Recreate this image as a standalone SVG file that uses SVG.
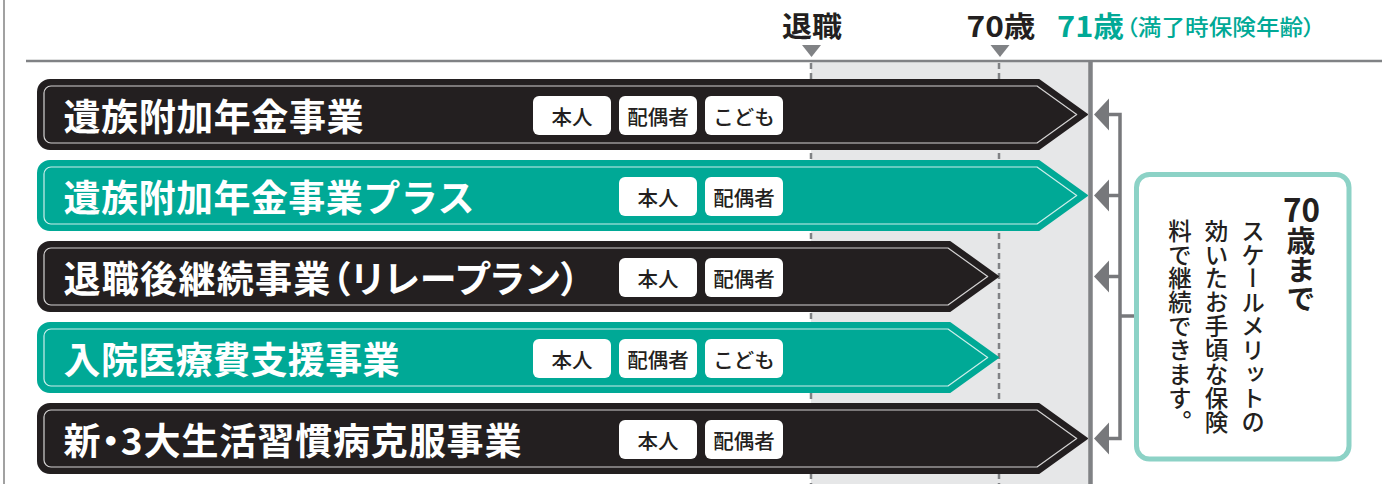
<svg xmlns="http://www.w3.org/2000/svg" width="1382" height="484" viewBox="0 0 1382 484">
  <style>
    .jp { font-family: "Noto Sans CJK JP", "Noto Sans", sans-serif; }
    .title { font-size: 37px; font-weight: 700; fill: #ffffff; dominant-baseline: central; }
    .palt { font-feature-settings: "palt"; }
    .tag { fill: #ffffff; }
    .tagtxt { font-size: 20.5px; font-weight: 500; fill: #231f20; text-anchor: middle; dominant-baseline: central; }
    .dark { fill: #231f20; stroke: #231f20; stroke-width: 2; stroke-linejoin: round; }
    .teal { fill: #00a996; stroke: #00a996; stroke-width: 2; stroke-linejoin: round; }
    .inner { fill: none; stroke: #ffffff; stroke-opacity: 0.8; stroke-width: 1.2; stroke-linejoin: round; }
    .head { font-size: 28px; font-weight: 700; dominant-baseline: central; }
    .conn { stroke: #77787b; stroke-width: 3.5; fill: none; }
    .arrow { fill: #77787b; }
    .vt { writing-mode: vertical-rl; font-size: 23.5px; font-weight: 500; fill: #231f20; letter-spacing: 0.4px; }
  </style>

  <!-- frame lines -->
  <g id="frame">
    <line x1="4" y1="0" x2="4" y2="484" stroke="#8a8a8a" stroke-width="1.6"/>
    <rect x="811" y="62" width="278" height="422" fill="#e6e7e8"/>
    <line x1="26" y1="61" x2="1382" y2="61" stroke="#808285" stroke-width="2.6"/>
    <line x1="811" y1="63" x2="811" y2="484" stroke="#808285" stroke-width="2.5" stroke-dasharray="6 4"/>
    <line x1="999" y1="63" x2="999" y2="484" stroke="#808285" stroke-width="2.5" stroke-dasharray="6 4"/>
    <line x1="1090.5" y1="61" x2="1090.5" y2="484" stroke="#808285" stroke-width="4.5"/>
  </g>

  <!-- top labels -->
  <g id="label-retire">
    <text class="jp head" x="812" y="25" text-anchor="middle" fill="#231f20" textLength="60" lengthAdjust="spacingAndGlyphs">退職</text>
    <polygon points="802,45 821,45 811.5,57" fill="#808285"/>
  </g>
  <g id="label-70">
    <text class="jp head" x="1001" y="25" text-anchor="middle" fill="#231f20" textLength="69" lengthAdjust="spacingAndGlyphs">70歳</text>
    <polygon points="990.5,45 1009.5,45 1000,57" fill="#808285"/>
  </g>
  <g id="label-71">
    <text class="jp head" x="1057" y="25" fill="#00a996" textLength="67" lengthAdjust="spacingAndGlyphs">71歳</text>
    <text class="jp palt" x="1126" y="25" font-size="21.5" font-weight="500" fill="#00a996" dominant-baseline="central" textLength="189" lengthAdjust="spacingAndGlyphs">（満了時保険年齢）</text>
  </g>

  <!-- bar 1 -->
  <g id="bar1">
    <path class="dark" d="M50,80 H1039 L1087,114.5 L1039,149 H50 A12,12 0 0 1 38,137 V92 A12,12 0 0 1 50,80 Z"/>
    <path class="inner" d="M51,86 H1037 L1076.7,114.5 L1037,143 H51 A7,7 0 0 1 44,136 V93 A7,7 0 0 1 51,86 Z"/>
    <text class="jp title" x="63.5" y="114.5" textLength="300" lengthAdjust="spacing">遺族附加年金事業</text>
    <rect class="tag" x="533" y="96" width="78" height="39" rx="6"/>
    <text class="jp tagtxt" x="572" y="115.5">本人</text>
    <rect class="tag" x="619" y="96" width="78" height="39" rx="6"/>
    <text class="jp tagtxt" x="658" y="115.5">配偶者</text>
    <rect class="tag" x="705" y="96" width="78" height="39" rx="6"/>
    <text class="jp tagtxt" x="744" y="115.5">こども</text>
  </g>

  <!-- bar 2 -->
  <g id="bar2">
    <path class="teal" d="M50,161 H1039 L1087,195.5 L1039,230 H50 A12,12 0 0 1 38,218 V173 A12,12 0 0 1 50,161 Z"/>
    <path class="inner" d="M51,167 H1037 L1076.7,195.5 L1037,224 H51 A7,7 0 0 1 44,217 V174 A7,7 0 0 1 51,167 Z"/>
    <text class="jp title" x="63.5" y="195.5" textLength="411" lengthAdjust="spacing">遺族附加年金事業プラス</text>
    <rect class="tag" x="619" y="177" width="78" height="39" rx="6"/>
    <text class="jp tagtxt" x="658" y="196.5">本人</text>
    <rect class="tag" x="705" y="177" width="78" height="39" rx="6"/>
    <text class="jp tagtxt" x="744" y="196.5">配偶者</text>
  </g>

  <!-- bar 3 -->
  <g id="bar3">
    <path class="dark" d="M50,242 H950 L998,276.5 L950,311 H50 A12,12 0 0 1 38,299 V254 A12,12 0 0 1 50,242 Z"/>
    <path class="inner" d="M51,248 H948 L987.7,276.5 L948,305 H51 A7,7 0 0 1 44,298 V255 A7,7 0 0 1 51,248 Z"/>
    <text class="jp title palt" x="63.5" y="276.5" textLength="516" lengthAdjust="spacing">退職後継続事業（リレープラン）</text>
    <rect class="tag" x="619" y="258" width="78" height="39" rx="6"/>
    <text class="jp tagtxt" x="658" y="277.5">本人</text>
    <rect class="tag" x="705" y="258" width="78" height="39" rx="6"/>
    <text class="jp tagtxt" x="744" y="277.5">配偶者</text>
  </g>

  <!-- bar 4 -->
  <g id="bar4">
    <path class="teal" d="M50,323 H950 L998,357.5 L950,392 H50 A12,12 0 0 1 38,380 V335 A12,12 0 0 1 50,323 Z"/>
    <path class="inner" d="M51,329 H948 L987.7,357.5 L948,386 H51 A7,7 0 0 1 44,379 V336 A7,7 0 0 1 51,329 Z"/>
    <text class="jp title" x="63.5" y="357.5" textLength="336" lengthAdjust="spacing">入院医療費支援事業</text>
    <rect class="tag" x="533" y="339" width="78" height="39" rx="6"/>
    <text class="jp tagtxt" x="572" y="358.5">本人</text>
    <rect class="tag" x="619" y="339" width="78" height="39" rx="6"/>
    <text class="jp tagtxt" x="658" y="358.5">配偶者</text>
    <rect class="tag" x="705" y="339" width="78" height="39" rx="6"/>
    <text class="jp tagtxt" x="744" y="358.5">こども</text>
  </g>

  <!-- bar 5 -->
  <g id="bar5">
    <path class="dark" d="M50,404 H1039 L1087,438.5 L1039,473 H50 A12,12 0 0 1 38,461 V416 A12,12 0 0 1 50,404 Z"/>
    <path class="inner" d="M51,410 H1037 L1076.7,438.5 L1037,467 H51 A7,7 0 0 1 44,460 V417 A7,7 0 0 1 51,410 Z"/>
    <text class="jp title palt" x="63.5" y="438.5" textLength="458" lengthAdjust="spacing">新・3大生活習慣病克服事業</text>
    <rect class="tag" x="619" y="420" width="78" height="39" rx="6"/>
    <text class="jp tagtxt" x="658" y="439.5">本人</text>
    <rect class="tag" x="705" y="420" width="78" height="39" rx="6"/>
    <text class="jp tagtxt" x="744" y="439.5">配偶者</text>
  </g>

  <!-- connectors -->
  <g id="connectors">
    <path class="conn" d="M1107,114.5 H1120 V438.5 H1107"/>
    <path class="conn" d="M1107,195.5 H1120"/>
    <path class="conn" d="M1107,276.5 H1120"/>
    <path class="conn" d="M1120,316 H1136"/>
    <polygon class="arrow" points="1094,114.5 1109,98.5 1109,130.5"/>
    <polygon class="arrow" points="1094,195.5 1109,179.5 1109,211.5"/>
    <polygon class="arrow" points="1094,276.5 1109,260.5 1109,292.5"/>
    <polygon class="arrow" points="1094,438.5 1109,422.5 1109,454.5"/>
  </g>

  <!-- note box -->
  <g id="note">
    <rect x="1136.5" y="174.5" width="212.5" height="284.5" rx="13" fill="#ffffff" stroke="#8cd2c6" stroke-width="5"/>
    <text class="jp" x="1301.5" y="222" text-anchor="middle" font-size="33" font-weight="700" fill="#231f20" textLength="37" lengthAdjust="spacingAndGlyphs">70</text>
    <text class="jp" x="1301" y="226" font-size="29" font-weight="700" fill="#231f20" style="writing-mode: vertical-rl;">歳まで</text>
    <text class="jp vt" x="1253" y="219">スケールメリットの</text>
    <text class="jp vt" x="1216.5" y="219">効いたお手頃な保険</text>
    <text class="jp vt" x="1180" y="219">料で継続できます。</text>
  </g>
</svg>
